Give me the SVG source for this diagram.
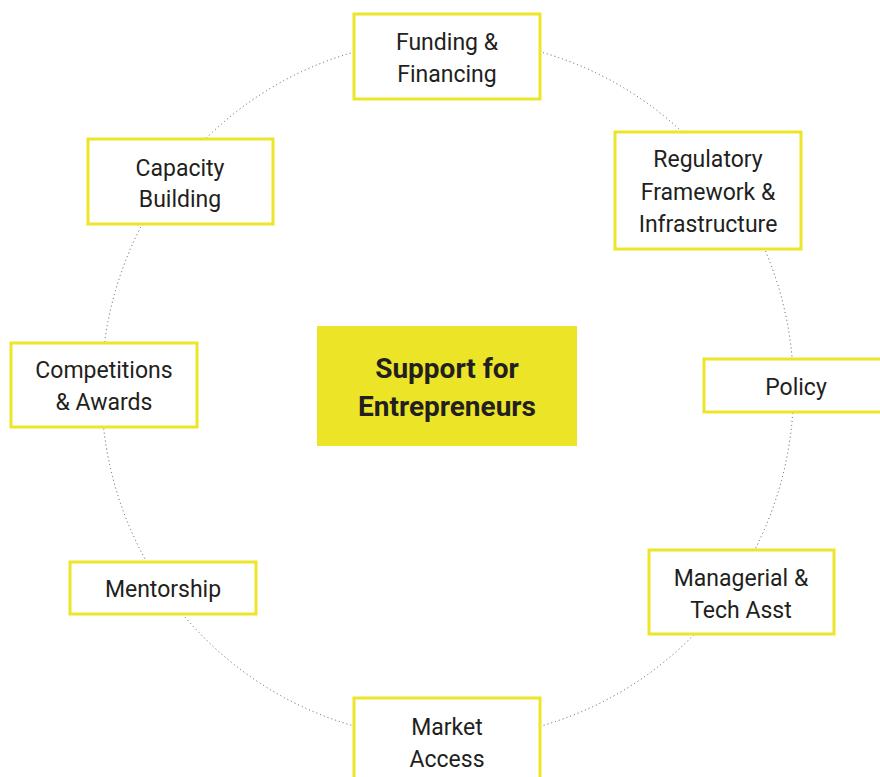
<svg xmlns="http://www.w3.org/2000/svg" width="880" height="777" viewBox="0 0 880 777">
<style>
.box{fill:#ffffff;stroke:#ece52a;stroke-width:3}
.t{font-family:Roboto,"Liberation Sans",sans-serif;font-size:23px;fill:#231f20;text-anchor:middle}
.tb{font-family:Roboto,"Liberation Sans",sans-serif;font-size:28px;font-weight:bold;fill:#231f20;text-anchor:middle}
.ring{fill:none;stroke:#555;stroke-width:1;stroke-dasharray:1 3}
</style>
<rect width="880" height="777" fill="#ffffff"/>
<g id="connectors">
<ellipse class="ring" cx="447.5" cy="389" rx="346" ry="350"/>
</g>
<g id="center">
<rect x="317" y="326" width="260" height="120" fill="#ece426"/>
<text class="tb" x="447" y="378">Support for</text>
<text class="tb" x="447" y="416">Entrepreneurs</text>
</g>
<g id="funding">
<rect class="box" x="354" y="14" width="186" height="85"/>
<text class="t" x="447" y="50">Funding &amp;</text>
<text class="t" x="447" y="82">Financing</text>
</g>
<g id="regulatory">
<rect class="box" x="615" y="132" width="186" height="117"/>
<text class="t" x="708" y="167">Regulatory</text>
<text class="t" x="708" y="200">Framework &amp;</text>
<text class="t" x="708" y="232">Infrastructure</text>
</g>
<g id="policy">
<rect class="box" x="704" y="359" width="190" height="53"/>
<text class="t" x="796" y="395">Policy</text>
</g>
<g id="managerial">
<rect class="box" x="649" y="550" width="185" height="84"/>
<text class="t" x="741" y="586">Managerial &amp;</text>
<text class="t" x="741" y="618">Tech Asst</text>
</g>
<g id="market">
<rect class="box" x="354" y="698" width="186" height="95"/>
<text class="t" x="447" y="735">Market</text>
<text class="t" x="447" y="767">Access</text>
</g>
<g id="mentorship">
<rect class="box" x="70" y="562" width="186" height="52"/>
<text class="t" x="163" y="597">Mentorship</text>
</g>
<g id="competitions">
<rect class="box" x="11" y="343" width="186" height="84"/>
<text class="t" x="104" y="378">Competitions</text>
<text class="t" x="104" y="410">&amp; Awards</text>
</g>
<g id="capacity">
<rect class="box" x="88" y="139" width="185" height="85"/>
<text class="t" x="180" y="176">Capacity</text>
<text class="t" x="180" y="207">Building</text>
</g>
</svg>
